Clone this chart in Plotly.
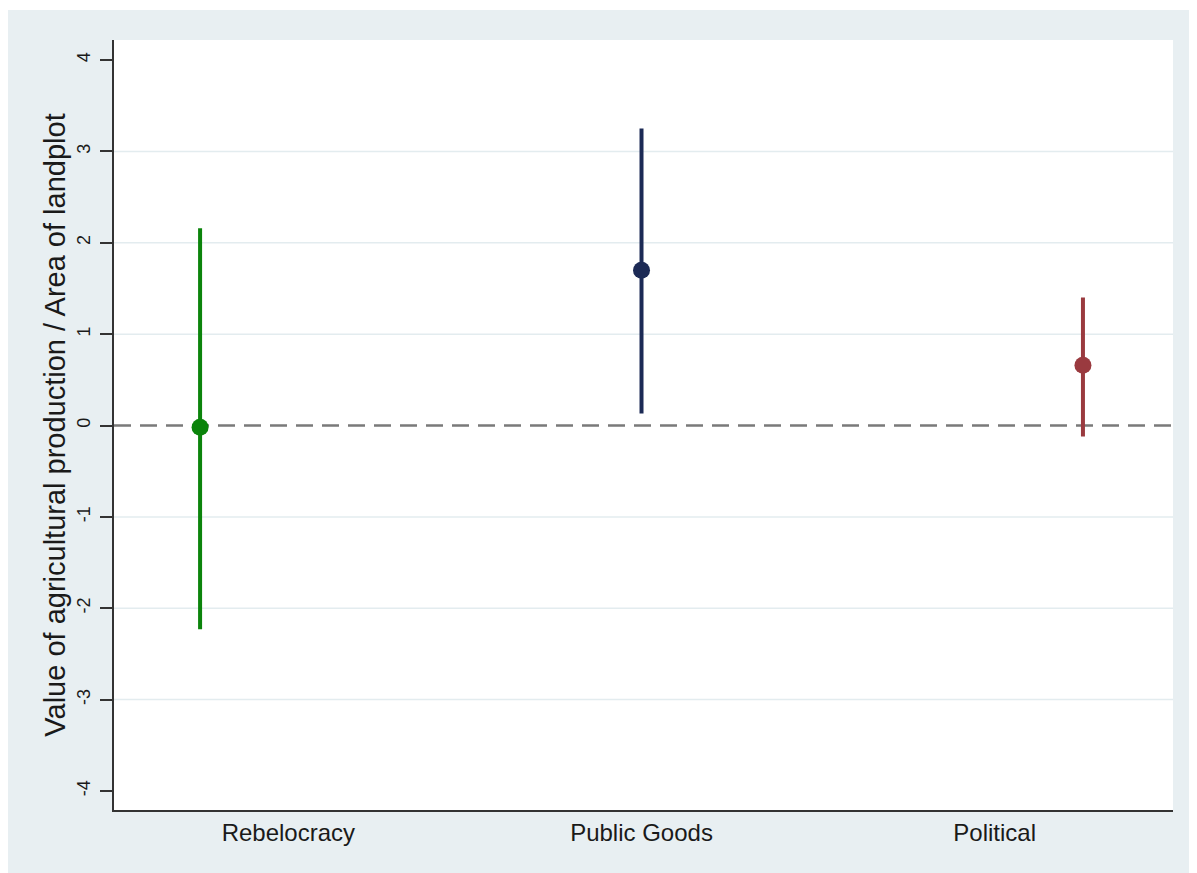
import plotly.graph_objects as go

categories = ["Rebelocracy", "Public Goods", "Political"]
positions = [1, 2, 3]
label_positions = [1.2, 2, 2.8]
estimates = [-0.02, 1.70, 0.66]
ci_low = [-2.23, 0.13, -0.12]
ci_high = [2.16, 3.25, 1.40]
colors = ["#0b840b", "#1c2a55", "#9a3a3f"]
y_ticks = [-4, -3, -2, -1, 0, 1, 2, 3, 4]
grid_vals = [-3, -2, -1, 1, 2, 3]

fig = go.Figure()
for x, cat, est, lo, hi, col in zip(positions, categories, estimates, ci_low, ci_high, colors):
    fig.add_trace(go.Scatter(
        x=[x], y=[est], mode="markers", name=cat,
        marker=dict(color=col, size=17),
        error_y=dict(type="data", symmetric=False, array=[hi - est], arrayminus=[est - lo],
                     color=col, thickness=4, width=0),
        showlegend=False,
    ))

shapes = [
    dict(type="rect", xref="paper", yref="paper", x0=-0.1001, x1=1.2, y0=-0.3, y1=1.039,
         fillcolor="#e8eff2", line=dict(width=0), layer="below"),
    dict(type="rect", xref="paper", yref="paper", x0=0, x1=1, y0=0, y1=1,
         fillcolor="white", line=dict(width=0), layer="below"),
]
for g in grid_vals:
    shapes.append(dict(type="line", xref="paper", yref="y", x0=0, x1=1, y0=g, y1=g,
                       line=dict(color="#e3ecef", width=1.5), layer="below"))
shapes.append(dict(type="line", xref="paper", yref="y", x0=0, x1=1, y0=0, y1=0,
                   line=dict(color="#7a7a7a", width=2.5, dash="17px,9px"), layer="below"))

fig.update_layout(
    width=1189, height=865,
    margin=dict(l=106, r=24, t=32, b=63),
    paper_bgcolor="white", plot_bgcolor="white",
    shapes=shapes,
    font=dict(family="Liberation Sans, Arial, sans-serif", color="#1a1a1a"),
    xaxis=dict(range=[0.805, 3.204], tickmode="array", tickvals=label_positions, ticktext=categories,
               showgrid=False, zeroline=False, showline=True, linecolor="#333333", linewidth=1.5,
               ticks="", tickfont=dict(size=24)),
    yaxis=dict(range=[-4.208, 4.219], tickmode="array", tickvals=y_ticks,
               ticktext=[str(v) for v in y_ticks],
               showgrid=False, zeroline=False, showline=True, linecolor="#333333", linewidth=1.5,
               ticks="outside", ticklen=12, tickwidth=1.5, tickcolor="#333333",
               tickangle=-90, tickfont=dict(size=18), ticklabelstandoff=3,
               title=dict(text="Value of agricultural production / Area of landplot",
                          font=dict(size=29), standoff=0)),
)

fig.write_html("out.html")
